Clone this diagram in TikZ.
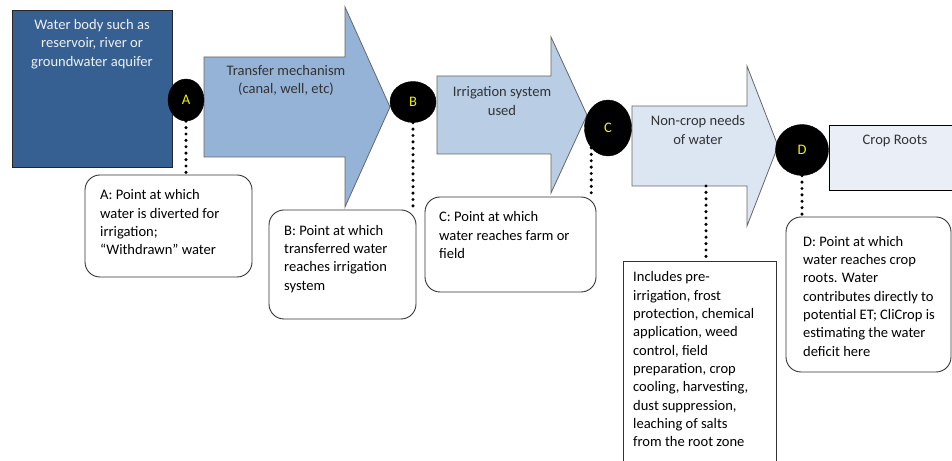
\documentclass[tikz,border=0pt]{standalone}
\usepackage{fontspec}
\setmainfont{Carlito}
\usetikzlibrary{shapes.geometric}
\definecolor{waterblue}{HTML}{366092}
\definecolor{arrowone}{HTML}{95B3D7}
\definecolor{arrowtwo}{HTML}{B9CDE5}
\definecolor{arrowthree}{HTML}{DCE6F2}
\definecolor{rootfill}{HTML}{EAEFF7}
\definecolor{ptyellow}{HTML}{F2F200}
\begin{document}
\begin{tikzpicture}[
  every node/.style={font=\fontsize{14.6}{18.4}\selectfont},
  point/.style={draw=black,fill=black,ellipse,inner sep=0pt,text=ptyellow,font=\fontsize{14.6}{16}\selectfont},
  callout/.style={draw=black!80,rounded corners=15bp,line width=0.9bp,fill=white,inner sep=0pt},
  note/.style={anchor=north west,align=left,inner sep=0pt,text=black},
  shapetext/.style={align=center,inner sep=0pt,text=black!80},
  flow/.style={draw=black!60,line width=0.8bp},
  dots/.style={line width=3.4bp,line cap=round,dash pattern=on 0pt off 6.4bp}]
  \useasboundingbox (0,0) rectangle (952bp,461bp);
  \clip (0,0) rectangle (952bp,461bp);
  % source and flow arrows
  \node (water) at (92bp,372.5bp) [draw=black!85,fill=waterblue,minimum width=160bp,minimum height=157bp,inner sep=0pt] {};
  \node (waterlbl) at (92bp,417bp) [shapetext,text=gray!12] {Water body such as\\reservoir, river or\\groundwater aquifer};
  \draw [flow,fill=arrowone] (204bp,404bp) -- (345bp,404bp) -- (345bp,454bp) -- (390bp,354bp) -- (345bp,254bp) -- (345bp,304bp) -- (204bp,304bp) -- cycle;
  \node (transfer) at (286bp,380.5bp) [shapetext] {Transfer mechanism\\(canal, well, etc)};
  \draw [flow,fill=arrowtwo] (437bp,385bp) -- (551bp,385bp) -- (551bp,424bp) -- (587bp,346bp) -- (551bp,268bp) -- (551bp,307bp) -- (437bp,307bp) -- cycle;
  \node (irrig) at (502bp,360bp) [shapetext] {Irrigation system\\used};
  \draw [flow,fill=arrowthree] (632bp,355bp) -- (747bp,355bp) -- (747bp,395bp) -- (778bp,315bp) -- (747bp,235bp) -- (747bp,275bp) -- (632bp,275bp) -- cycle;
  \node (noncrop) at (698bp,331bp) [shapetext] {Non-crop needs\\of water};
  \coordinate (ncbase) at (706bp,275bp);
  \node (roots) at (894.5bp,302.5bp) [draw=black,fill=rootfill,line width=1bp,minimum width=131bp,minimum height=65bp,inner sep=0pt] {};
  \node (rootlbl) at (895bp,320bp) [shapetext] {Crop Roots};
  % measuring points
  \node (A) at (186bp,361bp) [point,minimum width=36bp,minimum height=42bp] {A};
  \node (B) at (413bp,359bp) [point,minimum width=46bp,minimum height=41bp] {B};
  \node (C) at (608bp,333bp) [point,minimum width=47bp,minimum height=56bp] {C};
  \node (D) at (802bp,311bp) [point,minimum width=53bp,minimum height=51bp] {D};
  % callouts
  \node (boxA) at (168.5bp,235bp) [callout,minimum width=167bp,minimum height=102bp] {};
  \node (noteA) at (100bp,271.5bp) [note] {A: Point at which\\water is diverted for\\irrigation;\\“Withdrawn” water};
  \node (boxB) at (342.5bp,196.5bp) [callout,minimum width=147bp,minimum height=109bp] {};
  \node (noteB) at (284bp,236bp) [note] {B: Point at which\\transferred water\\reaches irrigation\\system};
  \node (boxC) at (510.5bp,216.5bp) [callout,minimum width=171bp,minimum height=95bp] {};
  \node (noteC) at (439bp,249.5bp) [note] {C: Point at which\\water reaches farm or\\field};
  \node (boxN) at (699.5bp,95bp) [draw=black!80,line width=0.9bp,fill=white,minimum width=153bp,minimum height=210bp,inner sep=0pt] {};
  \node (noteN) at (633bp,189.5bp) [note] {Includes pre-\\irrigation, frost\\protection, chemical\\application, weed\\control, field\\preparation, crop\\cooling, harvesting,\\dust suppression,\\leaching of salts\\from the root zone};
  \node (boxD) at (868.5bp,166.5bp) [callout,minimum width=165bp,minimum height=155bp] {};
  \node (noteD) at (803bp,225bp) [note] {D: Point at which\\water reaches crop\\roots. Water\\contributes directly to\\potential ET; CliCrop is\\estimating the water\\deficit here};
  % dotted leaders
  \draw [dots] (A.south) -- (A.south |- boxA.north);
  \draw [dots] (B.south) -- (B.south |- boxB.north);
  \draw [dots] (C.south west) -- (C.south west |- boxC.north);
  \draw [dots] (ncbase) -- (ncbase |- boxN.north);
  \draw [dots] (D.south) -- (D.south |- boxD.north);
\end{tikzpicture}
\end{document}
